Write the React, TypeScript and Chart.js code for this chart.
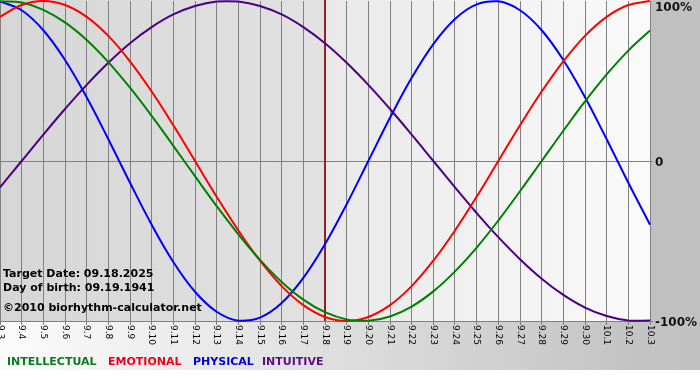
import React, { useEffect, useRef } from "react";
import { Chart, registerables } from "chart.js";

Chart.register(...registerables);

const dayLabels = [
  "9.3", "9.4", "9.5", "9.6", "9.7", "9.8", "9.9", "9.10", "9.11", "9.12",
  "9.13", "9.14", "9.15", "9.16", "9.17", "9.18", "9.19", "9.20", "9.21", "9.22",
  "9.23", "9.24", "9.25", "9.26", "9.27", "9.28", "9.29", "9.30", "10.1", "10.2", "10.3",
];

const intellectual = [
  0.999, 0.99, 0.945, 0.866, 0.756, 0.618, 0.458, 0.282, 0.095, -0.095,
  -0.282, -0.458, -0.618, -0.756, -0.866, -0.945, -0.99, -0.999, -0.972, -0.91,
  -0.815, -0.69, -0.541, -0.372, -0.189, 0, 0.189, 0.372, 0.541, 0.69, 0.815,
];

const emotional = [
  0.901, 0.975, 1, 0.975, 0.901, 0.782, 0.623, 0.434, 0.223, 0,
  -0.223, -0.434, -0.623, -0.782, -0.901, -0.975, -1, -0.975, -0.901, -0.782,
  -0.623, -0.434, -0.223, 0, 0.223, 0.434, 0.623, 0.782, 0.901, 0.975, 1,
];

const physical = [
  0.998, 0.942, 0.817, 0.631, 0.398, 0.136, -0.136, -0.398, -0.631, -0.817,
  -0.942, -0.998, -0.979, -0.888, -0.731, -0.52, -0.27, 0, 0.27, 0.52,
  0.731, 0.888, 0.979, 0.998, 0.942, 0.817, 0.631, 0.398, 0.136, -0.136, -0.398,
];

const intuitive = [
  -0.165, 0, 0.165, 0.325, 0.476, 0.614, 0.736, 0.837, 0.916, 0.969,
  0.997, 0.997, 0.969, 0.916, 0.837, 0.736, 0.614, 0.476, 0.325, 0.165,
  0, -0.165, -0.325, -0.476, -0.614, -0.736, -0.837, -0.916, -0.969, -0.997, -0.997,
];

const seriesNames = ["INTELLECTUAL", "EMOTIONAL", "PHYSICAL", "INTUITIVE"];
const seriesColors = ["#008000", "#ff0000", "#0000ff", "#4b0082"];
const legendColors = ["#0a7a20", "#f00018", "#0000dd", "#5a0a8a"];

const yTickValues = [1, 0, -1];
const yTickLabels = ["100%", "0", "-100%"];

const targetLabel = "9.18";
const infoLines = ["Target Date: 09.18.2025", "Day of birth: 09.19.1941", "\u00A92010 biorhythm-calculator.net"];

export default function App() {
  const canvasRef = useRef<HTMLCanvasElement | null>(null);

  useEffect(() => {
    const canvas = canvasRef.current;
    if (!canvas) return;

    const decor = {
      id: "decor",
      beforeDraw(chart: any) {
        const ctx = chart.ctx;
        const area = chart.chartArea;
        const xs = chart.scales.x;
        const tx = xs.getPixelForValue(dayLabels.indexOf(targetLabel));
        ctx.save();
        ctx.fillStyle = "#ffffff";
        ctx.fillRect(0, 0, 700, 380);
        const g = ctx.createLinearGradient(0, 0, 700, 0);
        g.addColorStop(0, "#fcfcfc");
        g.addColorStop(0.9, "#c4c4c4");
        g.addColorStop(1, "#c0c0c0");
        ctx.fillStyle = g;
        ctx.fillRect(0, 0, 700, 370);
        ctx.fillStyle = "#c0c0c0";
        ctx.fillRect(area.right, 0, 700 - area.right, area.bottom);
        const gl = ctx.createLinearGradient(area.left, 0, tx, 0);
        gl.addColorStop(0, "#d6d6d6");
        gl.addColorStop(1, "#e2e2e2");
        ctx.fillStyle = gl;
        ctx.fillRect(area.left, 0, tx - area.left, area.bottom);
        const gr = ctx.createLinearGradient(tx, 0, area.right, 0);
        gr.addColorStop(0, "#e9e9e9");
        gr.addColorStop(1, "#fafafa");
        ctx.fillStyle = gr;
        ctx.fillRect(tx, 0, area.right - tx, area.bottom);
        ctx.restore();
      },
      beforeDatasetsDraw(chart: any) {
        const ctx = chart.ctx;
        const area = chart.chartArea;
        const xs = chart.scales.x;
        const tx = xs.getPixelForValue(dayLabels.indexOf(targetLabel));
        ctx.save();
        ctx.strokeStyle = "#8e2424";
        ctx.lineWidth = 2;
        ctx.beginPath();
        ctx.moveTo(tx, 0);
        ctx.lineTo(tx, area.bottom);
        ctx.stroke();
        ctx.restore();
      },
      afterDraw(chart: any) {
        const ctx = chart.ctx;
        const area = chart.chartArea;
        const xs = chart.scales.x;
        const ys = chart.scales.y;
        ctx.save();
        // right axis labels
        ctx.fillStyle = "#111111";
        ctx.font = "bold 12px 'DejaVu Sans'";
        ctx.textAlign = "left";
        ctx.textBaseline = "middle";
        yTickValues.forEach((v, i) => {
          const py = Math.max(ys.getPixelForValue(v) + 2, 8);
          ctx.fillText(yTickLabels[i], area.right + 5, py);
        });
        // x labels rotated clockwise
        ctx.font = "9px 'DejaVu Sans'";
        ctx.fillStyle = "#000000";
        dayLabels.forEach((lab, i) => {
          const px = xs.getPixelForValue(i);
          ctx.save();
          ctx.translate(px, area.bottom + 4);
          ctx.rotate(Math.PI / 2);
          ctx.textAlign = "left";
          ctx.textBaseline = "middle";
          ctx.fillText(lab, 0, 0);
          ctx.restore();
        });
        // info text
        ctx.font = "bold 11px 'DejaVu Sans'";
        ctx.fillStyle = "#000000";
        ctx.textAlign = "left";
        ctx.textBaseline = "alphabetic";
        const infoY = [277, 291, 311];
        infoLines.forEach((t, i) => ctx.fillText(t, 3, infoY[i]));
        // legend
        ctx.textBaseline = "middle";
        const legendX = [7, 108, 193, 262];
        seriesNames.forEach((n, i) => {
          ctx.fillStyle = legendColors[i];
          ctx.fillText(n, legendX[i], 362);
        });
        ctx.restore();
      },
    };

    const seriesData = [intellectual, emotional, physical, intuitive];

    const chart = new Chart(canvas, {
      type: "line",
      data: {
        labels: dayLabels,
        datasets: seriesNames.map((n, i) => ({
          label: n,
          data: seriesData[i],
          borderColor: seriesColors[i],
          backgroundColor: seriesColors[i],
          borderWidth: 2,
          pointRadius: 0,
          tension: 0.4,
          fill: false,
          clip: false as any,
        })),
      },
      options: {
        animation: false,
        responsive: false,
        devicePixelRatio: 1,
        layout: { padding: { top: 1, left: 0, right: 0, bottom: 0 } },
        plugins: {
          legend: { display: false },
          tooltip: { enabled: false },
          title: { display: false },
        },
        scales: {
          x: {
            type: "category",
            offset: false,
            grid: {
              color: "#808080",
              lineWidth: 1,
              drawTicks: true,
              tickLength: 4,
            },
            border: { display: true, color: "#808080" },
            ticks: { display: false },
            afterFit: (scale: any) => {
              scale.height = 59;
            },
          },
          y: {
            position: "right",
            min: -1,
            max: 1,
            grid: {
              color: (c: any) => (c.tick && (c.tick.value === 0 || c.tick.value === -1) ? "#808080" : "rgba(0,0,0,0)"),
              lineWidth: 1,
              drawTicks: true,
              tickLength: 3,
            },
            border: { display: false },
            ticks: { display: false, stepSize: 1 },
            afterFit: (scale: any) => {
              scale.width = 50;
            },
          },
        },
      },
      plugins: [decor],
    } as any);

    return () => chart.destroy();
  }, []);

  return (
    <div style={{ position: "absolute", left: 0, top: 0, width: 700, height: 380 }}>
      <canvas ref={canvasRef} width={700} height={380} style={{ display: "block", width: 700, height: 380 }} />
    </div>
  );
}
